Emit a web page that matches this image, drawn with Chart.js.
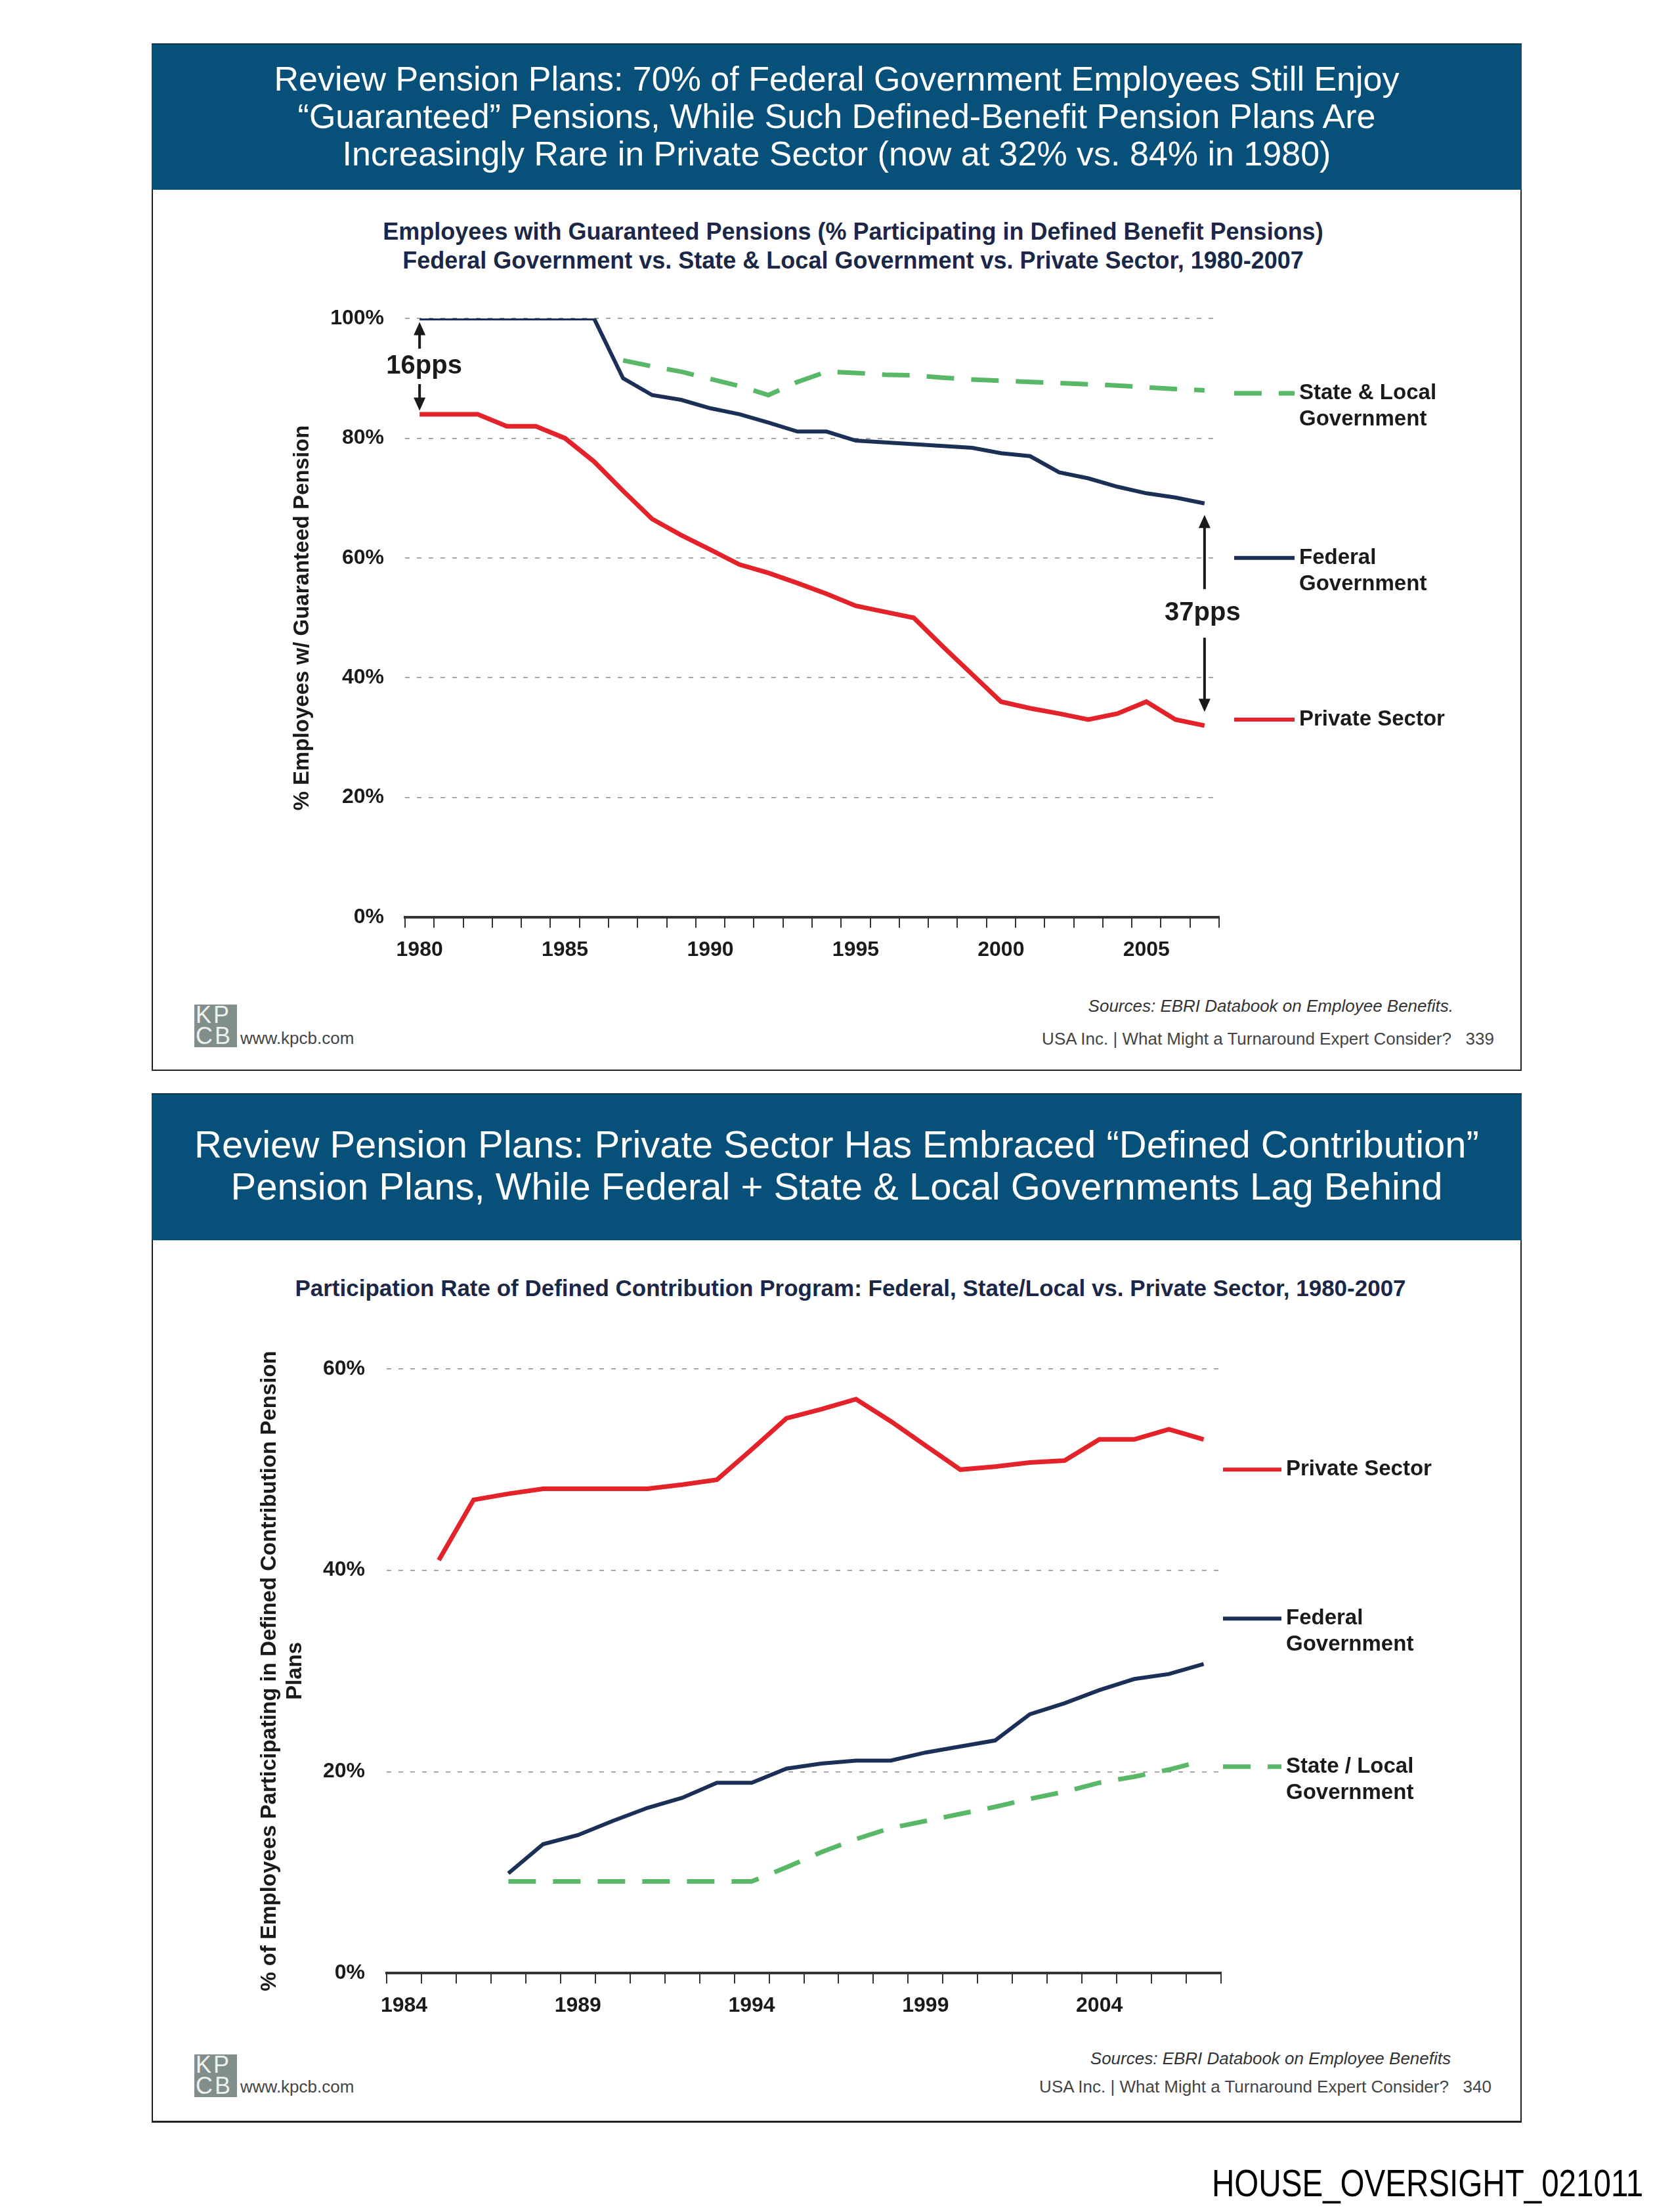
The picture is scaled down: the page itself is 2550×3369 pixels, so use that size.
<!DOCTYPE html>
<html>
<head>
<meta charset="utf-8">
<script src="https://cdn.jsdelivr.net/npm/chart.js@4.4.1/dist/chart.umd.min.js"></script>
<style>
  body { margin: 0; width: 2550px; height: 3369px; background: #fff; position: relative; overflow: hidden;
         font-family: "Liberation Sans", Arial, sans-serif; }
  .box { position: absolute; left: 231px; width: 2087px; border: 2px solid #222; box-sizing: border-box; }
  .band { position: absolute; left: 231px; width: 2087px; background: #07507a; border-top: 2px solid #0d3550; box-sizing: border-box; }
  .title { position: absolute; left: 231px; width: 2087px; text-align: center; color: #fff; }
  .sub { position: absolute; width: 2087px; text-align: center; color: #1b2747; font-weight: bold; line-height: 44px; }
  .src { position: absolute; font-style: italic; font-size: 26px; color: #333; line-height: 30px; }
  .foot { position: absolute; font-size: 26px; color: #444; line-height: 30px; }
  .logo { position: absolute; width: 65px; height: 65px; background: #818f8c; color: #eef1ef; font-size: 36px; line-height: 32px; letter-spacing: 3px; padding-left: 2px; box-sizing: border-box; overflow: hidden; }
  canvas { position: absolute; }
</style>
</head>
<body>
<div class="box" style="top:66px;height:1565px"></div>
<div class="band" style="top:66px;height:223px"></div>
<div class="title" style="top:92px;font-size:52px;line-height:57px">Review Pension Plans: 70% of Federal Government Employees Still Enjoy<br>“Guaranteed” Pensions, While Such Defined-Benefit Pension Plans Are<br>Increasingly Rare in Private Sector (now at 32% vs. 84% in 1980)</div>
<div class="sub" style="left:256px;top:331px;font-size:36px">Employees with Guaranteed Pensions (% Participating in Defined Benefit Pensions)<br>Federal Government vs. State &amp; Local Government vs. Private Sector, 1980-2007</div>
<canvas id="dbChart" width="2087" height="1080" style="left:231px;top:430px"></canvas>
<div class="src" style="right:336px;top:1517px">Sources: EBRI Databook on Employee Benefits.</div>
<div class="logo" style="left:296px;top:1530px">KP<br>CB</div>
<div class="foot" style="left:366px;top:1566px">www.kpcb.com</div>
<div class="foot" style="right:274px;top:1567px">USA Inc. | What Might a Turnaround Expert Consider?&nbsp;&nbsp;&nbsp;339</div>

<div class="box" style="top:1665px;height:1568px;border-bottom-width:3px"></div>
<div class="band" style="top:1665px;height:224px"></div>
<div class="title" style="top:1711px;font-size:58px;line-height:64px">Review Pension Plans: Private Sector Has Embraced “Defined Contribution”<br>Pension Plans, While Federal + State &amp; Local Governments Lag Behind</div>
<div class="sub" style="left:252px;top:1940px;font-size:35px">Participation Rate of Defined Contribution Program: Federal, State/Local vs. Private Sector, 1980-2007</div>
<canvas id="dcChart" width="2087" height="1090" style="left:231px;top:2030px"></canvas>
<div class="src" style="right:340px;top:3120px">Sources: EBRI Databook on Employee Benefits</div>
<div class="logo" style="left:296px;top:3129px">KP<br>CB</div>
<div class="foot" style="left:366px;top:3163px">www.kpcb.com</div>
<div class="foot" style="right:278px;top:3163px">USA Inc. | What Might a Turnaround Expert Consider?&nbsp;&nbsp;&nbsp;340</div>

<div style="position:absolute;left:1846px;top:3290px;font-size:58px;line-height:70px;color:#000;transform:scaleX(0.82);transform-origin:left top;white-space:nowrap">HOUSE_OVERSIGHT_021011</div>

<script>
// defined benefit chart (top)
const dbYears = ["1980","1981","1982","1983","1984","1985","1986","1987","1988","1989","1990","1991","1992","1993",
  "1994","1995","1996","1997","1998","1999","2000","2001","2002","2003","2004","2005","2006","2007"];
const dbFederal = [100,100,100,100,100,100,100,90,87.2,86.4,85,84,82.6,81.1,81.1,79.6,79.3,79,78.7,78.4,77.5,77,74.3,73.3,71.9,70.8,70.1,69.1];
const dbPrivate = [84,84,84,82,82,80,76.1,71.2,66.5,63.8,61.4,58.9,57.5,55.8,54,52,51,50,45.2,40.6,36,34.9,34,33,34,36,33,32];
const dbState = [null,null,null,null,null,null,null,93,92,91.1,89.9,88.7,87.2,89.4,91.1,90.9,90.6,90.5,90.1,89.8,89.6,89.4,89.2,89,88.8,88.5,88.2,88];
const dbTickYears = ["1980","1985","1990","1995","2000","2005"];
const dbLegendAt = [87.5, 60, 33];

// defined contribution chart (bottom)
const dcYears = ["1984","1985","1986","1987","1988","1989","1990","1991","1992","1993","1994","1995","1996","1997",
  "1998","1999","2000","2001","2002","2003","2004","2005","2006","2007"];
const dcPrivate = [null,41,47,47.6,48.1,48.1,48.1,48.1,48.5,49,52,55.1,56,57,54.8,52.4,50,50.3,50.7,50.9,53,53,54,53];
const dcFederal = [null,null,null,9.9,12.8,13.7,15.1,16.4,17.4,18.9,18.9,20.3,20.8,21.1,21.1,21.9,22.5,23.1,25.7,26.8,28.1,29.2,29.7,30.7];
const dcState = [null,null,null,9.1,9.1,9.1,9.1,9.1,9.1,9.1,9.1,10.5,12,13.3,14.4,15.1,15.8,16.5,17.3,18,18.9,19.5,20.2,21.1];
const dcTickYears = ["1984","1989","1994","1999","2004"];
const dcLegendAt = [50, 35.2, 20.5];

const RED = "#e3222a", NAVY = "#1c3057", GREEN = "#58b867", INK = "#1a1a1a";
const FONT = '"Liberation Sans", Arial, sans-serif';
const DASH = [42, 26];

Chart.defaults.font.family = FONT;
Chart.defaults.color = INK;

const sideLabels = {
  id: "sideLabels",
  afterDatasetsDraw(chart, args, opts) {
    const { ctx, chartArea, scales: { x, y } } = chart;
    ctx.save();
    opts.items.forEach((it) => {
      const py = y.getPixelForValue(it.value);
      const x0 = chartArea.right + opts.gap, x1 = x0 + opts.len;
      ctx.beginPath();
      ctx.strokeStyle = it.color;
      ctx.lineWidth = it.width;
      ctx.setLineDash(it.dash || []);
      ctx.moveTo(x0, py);
      ctx.lineTo(x1, py);
      ctx.stroke();
      ctx.setLineDash([]);
      ctx.fillStyle = INK;
      ctx.font = "bold 33px " + FONT;
      ctx.textAlign = "left";
      ctx.textBaseline = "middle";
      it.text.forEach((t, i) => ctx.fillText(t, x1 + 7, py + i * 40));
    });
    (opts.arrows || []).forEach((a) => {
      const px = x.getPixelForValue(a.index);
      const top = y.getPixelForValue(a.from), bot = y.getPixelForValue(a.to);
      const mid = (top + bot) / 2;
      ctx.strokeStyle = INK;
      ctx.fillStyle = INK;
      ctx.lineWidth = 4;
      ctx.beginPath();
      ctx.moveTo(px, top + 18); ctx.lineTo(px, mid - a.gap);
      ctx.moveTo(px, mid + a.gap); ctx.lineTo(px, bot - 18);
      ctx.stroke();
      ctx.beginPath();
      ctx.moveTo(px, top); ctx.lineTo(px - 9, top + 20); ctx.lineTo(px + 9, top + 20); ctx.closePath();
      ctx.moveTo(px, bot); ctx.lineTo(px - 9, bot - 20); ctx.lineTo(px + 9, bot - 20); ctx.closePath();
      ctx.fill();
      ctx.font = "bold 40px " + FONT;
      ctx.textAlign = "center";
      ctx.textBaseline = "middle";
      ctx.fillText(a.text, px + a.dx, mid);
    });
    ctx.restore();
  },
};

function makeChart(id, cfg) {
  new Chart(document.getElementById(id), {
    type: "line",
    data: {
      labels: cfg.labels,
      datasets: cfg.series.map((s) => ({
        data: s.data,
        borderColor: s.color,
        borderWidth: s.width,
        borderDash: s.dash || [],
        pointRadius: 0,
        tension: 0,
        fill: false,
      })),
    },
    options: {
      responsive: false,
      animation: false,
      devicePixelRatio: 1,
      layout: { padding: { top: 55, right: cfg.padRight, bottom: cfg.padBottom, left: 0 } },
      plugins: {
        legend: { display: false },
        tooltip: { enabled: false },
        sideLabels: { gap: cfg.legendGap, len: cfg.legendLen, items: cfg.legend, arrows: cfg.arrows },
      },
      scales: {
        x: {
          offset: true,
          grid: { offset: true, drawOnChartArea: false, drawTicks: true, tickLength: 16, color: "#333", lineWidth: 2 },
          border: { display: true, color: "#333", width: 4 },
          ticks: {
            autoSkip: false, maxRotation: 0, padding: 15, color: INK,
            font: { size: 32, weight: "bold" },
            callback: (v, i) => (cfg.tickYears.includes(cfg.labels[i]) ? cfg.labels[i] : ""),
          },
          afterFit: (s) => { s.height = 80; },
        },
        y: {
          min: 0, max: cfg.yMax,
          grid: {
            drawTicks: false, lineWidth: 1.5,
            color: (c) => (c.tick.value === 0 ? "rgba(0,0,0,0)" : "#8c8c8c"),
          },
          border: { display: false, dash: [7, 11] },
          ticks: { stepSize: 20, padding: cfg.tickPad, color: INK, font: { size: 32, weight: "bold" }, callback: (v) => v + "%" },
          title: { display: true, text: cfg.yTitle, color: INK, font: { size: 33, weight: "bold" }, padding: { top: cfg.titlePad, bottom: 0 } },
          afterFit: (s) => { s.width = cfg.yWidth; },
        },
      },
    },
    plugins: [sideLabels],
  });
}

makeChart("dbChart", {
  labels: dbYears,
  tickYears: dbTickYears,
  yMax: 100,
  yWidth: 386,
  tickPad: 32,
  titlePad: 210,
  padRight: 461,
  padBottom: 33,
  yTitle: "% Employees w/ Guaranteed Pension",
  legendGap: 23,
  legendLen: 92,
  series: [
    { data: dbPrivate, color: RED, width: 7 },
    { data: dbFederal, color: NAVY, width: 6 },
    { data: dbState, color: GREEN, width: 7, dash: DASH },
  ],
  legend: [
    { value: dbLegendAt[0], color: GREEN, width: 7, dash: DASH, text: ["State & Local", "Government"] },
    { value: dbLegendAt[1], color: NAVY, width: 6, text: ["Federal", "Government"] },
    { value: dbLegendAt[2], color: RED, width: 6, text: ["Private Sector"] },
  ],
  arrows: [
    { index: 0, from: 99.4, to: 84.6, text: "16pps", gap: 27, dx: 7 },
    { index: 27, from: 67.2, to: 34.3, text: "37pps", gap: 37, dx: -3 },
  ],
});

makeChart("dcChart", {
  labels: dcYears,
  tickYears: dcTickYears,
  yMax: 60,
  yWidth: 358,
  tickPad: 33,
  titlePad: 160,
  padRight: 458,
  padBottom: 35,
  yTitle: ["% of Employees Participating in Defined Contribution Pension", "Plans"],
  legendGap: 3,
  legendLen: 89,
  series: [
    { data: dcPrivate, color: RED, width: 7 },
    { data: dcFederal, color: NAVY, width: 6 },
    { data: dcState, color: GREEN, width: 7, dash: DASH },
  ],
  legend: [
    { value: dcLegendAt[0], color: RED, width: 6, text: ["Private Sector"] },
    { value: dcLegendAt[1], color: NAVY, width: 6, text: ["Federal", "Government"] },
    { value: dcLegendAt[2], color: GREEN, width: 7, dash: DASH, text: ["State / Local", "Government"] },
  ],
  arrows: [],
});
</script>
</body>
</html>
